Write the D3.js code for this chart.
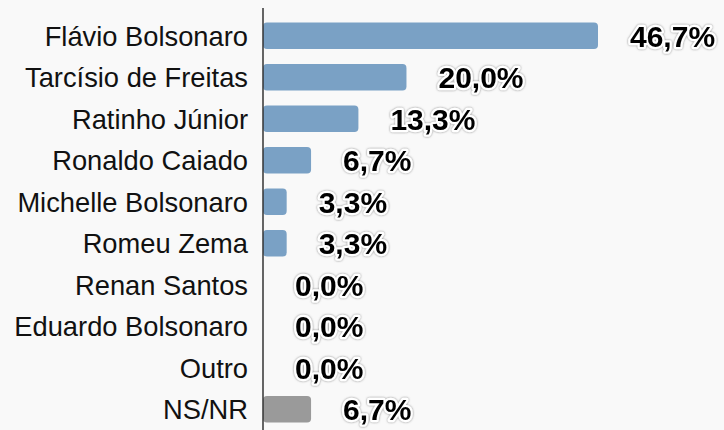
<!DOCTYPE html>
<html>
<head>
<meta charset="utf-8">
<script src="https://cdn.jsdelivr.net/npm/d3@7"></script>
<style>
  body { margin: 0; background: #f9f9f9; }
  svg { display: block; }
</style>
</head>
<body>
<div id="chart"></div>
<script>
    var width = 724,
        height = 430;

    // data
    var names = ['Flávio Bolsonaro', 'Tarcísio de Freitas', 'Ratinho Júnior', 'Ronaldo Caiado',
                 'Michelle Bolsonaro', 'Romeu Zema', 'Renan Santos', 'Eduardo Bolsonaro', 'Outro', 'NS/NR'];
    var values = [46.7, 20.0, 13.3, 6.7, 3.3, 3.3, 0.0, 0.0, 0.0, 6.7];
    var barColors = ['#7aa1c5', '#7aa1c5', '#7aa1c5', '#7aa1c5', '#7aa1c5', '#7aa1c5', '#7aa1c5', '#7aa1c5', '#7aa1c5', '#9a9a9a'];

    var svg = d3.select('#chart').append('svg')
        .attr('width', width)
        .attr('height', height);

    var defs = svg.append('defs');
    var glow = defs.append('filter').attr('id', 'glow')
        .attr('x', '-20%').attr('y', '-30%').attr('width', '140%').attr('height', '160%');
    glow.append('feDropShadow')
        .attr('dx', 0).attr('dy', 0)
        .attr('stdDeviation', 1.2)
        .attr('flood-color', '#666')
        .attr('flood-opacity', 0.8);

    var x0 = 263;
    var x = d3.scaleLinear().domain([0, 46.7]).range([x0, 598]);
    var y = d3.scaleBand().domain(names).range([15, 430]).paddingInner(0.36).paddingOuter(0.18);

    // bars
    svg.selectAll('rect.bar')
        .data(values)
        .enter().append('rect')
        .attr('class', 'bar')
        .attr('x', x0)
        .attr('y', function(d, i){ return y(names[i]); })
        .attr('width', function(d){ return x(d) - x0; })
        .attr('height', y.bandwidth())
        .attr('rx', 4)
        .style('fill', function(d, i){ return barColors[i]; });

    // category labels
    svg.selectAll('text.name')
        .data(names)
        .enter().append('text')
        .attr('class', 'name')
        .attr('x', 248)
        .attr('y', function(d){ return y(d) + y.bandwidth() / 2; })
        .attr('dy', '0.36em')
        .attr('text-anchor', 'end')
        .style('font-family', 'Liberation Sans, Arial, sans-serif')
        .style('font-size', '27.3px')
        .style('fill', '#111')
        .text(function(d){ return d; });

    // value labels
    svg.selectAll('text.val')
        .data(values)
        .enter().append('text')
        .attr('class', 'val')
        .attr('x', function(d){ return x(d) + 32; })
        .attr('y', function(d, i){ return y(names[i]) + y.bandwidth() / 2; })
        .attr('dy', '0.36em')
        .attr('filter', 'url(#glow)')
        .style('font-family', 'Liberation Sans, Arial, sans-serif')
        .style('font-size', '30px')
        .style('font-weight', 'bold')
        .style('fill', '#000')
        .style('stroke', '#fff')
        .style('stroke-width', 4.5)
        .style('stroke-linejoin', 'round')
        .style('paint-order', 'stroke')
        .text(function(d){ return d.toFixed(1).replace('.', ',') + '%'; });

    // axis line
    svg.append('line')
        .attr('x1', x0).attr('x2', x0)
        .attr('y1', 8).attr('y2', height)
        .style('stroke', '#333')
        .style('stroke-width', 1.5);
</script>
</body>
</html>
